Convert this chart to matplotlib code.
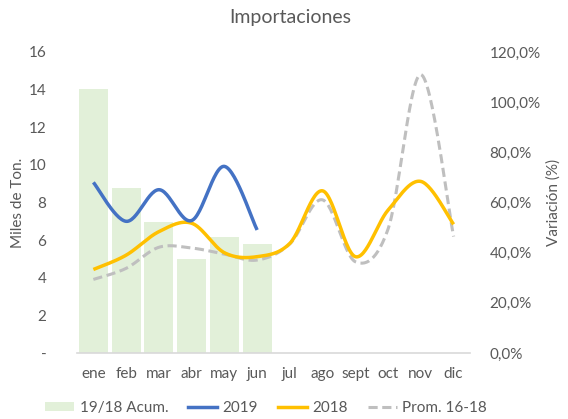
import numpy as np
import matplotlib
matplotlib.use("Agg")
import matplotlib.pyplot as plt
from matplotlib.ticker import FuncFormatter, MultipleLocator
from matplotlib.patches import Patch
from matplotlib.lines import Line2D

plt.rcParams['font.family'] = ['Lato', 'DejaVu Sans']

months = ["ene", "feb", "mar", "abr", "may", "jun", "jul", "ago", "sept", "oct", "nov", "dic"]
acum_19_18 = [105.3, 65.7, 52.4, 37.5, 46.4, 43.5]          # % (right axis)
y2019 = [9.07, 7.0, 8.68, 7.04, 9.92, 6.54]                  # miles de ton
y2018 = [4.44, 5.2, 6.45, 6.9, 5.33, 5.12, 5.83, 8.62, 5.12, 7.6, 9.12, 6.84]
prom_16_18 = [3.91, 4.5, 5.62, 5.58, 5.26, 4.94, 5.8, 8.14, 4.85, 6.6, 14.8, 6.19]

GREY = "#595959"


def smooth(xs, ys, n=30):
    xs = np.asarray(xs, float)
    ys = np.asarray(ys, float)
    P = np.column_stack([xs, ys])
    out = [P[0]]
    m = len(P)
    for i in range(m - 1):
        p0 = P[i - 1] if i > 0 else P[i]
        p1 = P[i]
        p2 = P[i + 1]
        p3 = P[i + 2] if i + 2 < m else P[i + 1]
        c1 = p1 + (p2 - p0) / 6.0
        c2 = p2 - (p3 - p1) / 6.0
        t = np.linspace(0, 1, n)[1:, None]
        seg = ((1 - t) ** 3) * p1 + 3 * ((1 - t) ** 2) * t * c1 + 3 * (1 - t) * t ** 2 * c2 + t ** 3 * p2
        out.extend(seg)
    out = np.array(out)
    return out[:, 0], out[:, 1]


fig = plt.figure(figsize=(5.68, 4.19), dpi=100)
ax = fig.add_axes([77 / 568, 66 / 419, 393 / 568, 301 / 419])
ax2 = ax.twinx()

x = np.arange(len(months))
ax2.bar(x[:len(acum_19_18)], np.array(acum_19_18) / 100.0, width=0.88, color="#E2F0D9", zorder=1)

sx, sy = smooth(x[:len(y2019)], y2019)
ax.plot(sx, sy, color="#4472C4", lw=2.5, solid_capstyle="butt", zorder=4)
sx, sy = smooth(x, y2018)
ax.plot(sx, sy, color="#FFC000", lw=2.5, solid_capstyle="butt", zorder=3)
sx, sy = smooth(x, prom_16_18)
ax.plot(sx, sy, color="#BFBFBF", lw=2.2, ls=(0, (3, 1.5)), zorder=2)

ax.set_zorder(ax2.get_zorder() + 1)
ax.patch.set_visible(False)

ax.set_xlim(-0.5, 11.5)
ax.set_ylim(0, 16)
ax2.set_ylim(0, 1.2)
ax.yaxis.set_major_locator(MultipleLocator(2))
ax2.yaxis.set_major_locator(MultipleLocator(0.2))
ax.yaxis.set_major_formatter(FuncFormatter(lambda v, p: "-" if abs(v) < 1e-9 else f"{v:.0f}"))
ax2.yaxis.set_major_formatter(FuncFormatter(lambda v, p: f"{v*100:.1f}%".replace(".", ",")))

ax.set_xticks(x)
ax.set_xticklabels(months)

for a in (ax, ax2):
    for s in a.spines.values():
        s.set_visible(False)
    a.tick_params(length=0, colors=GREY, labelsize=11)
ax.spines['bottom'].set_visible(True)
ax.spines['bottom'].set_color("#D9D9D9")
ax.spines['bottom'].set_linewidth(1.2)
ax.tick_params(axis='x', pad=10)
ax.tick_params(axis='y', pad=22)
ax2.tick_params(axis='y', pad=14)

ax.set_ylabel("Miles de Ton.", color=GREY, fontsize=11, labelpad=3)
ax2.set_ylabel("Variación (%)", color=GREY, fontsize=11, labelpad=4)

fig.text(290 / 568, 1 - 18 / 419, "Importaciones", ha="center", va="center", color=GREY, fontsize=14)

handles = [
    Patch(facecolor="#E2F0D9", edgecolor="none"),
    Line2D([], [], color="#4472C4", lw=2.5),
    Line2D([], [], color="#FFC000", lw=2.5),
    Line2D([], [], color="#BFBFBF", lw=2.2, ls=(0, (3, 1.5))),
]
labels = ["19/18 Acum.", "2019", "2018", "Prom. 16-18"]
fig.legend(handles, labels, loc="center", bbox_to_anchor=(266 / 568, 1 - 408 / 419), ncol=4,
           frameon=False, fontsize=11, labelcolor=GREY, handlelength=1.9, columnspacing=1.3,
           handletextpad=0.35, handleheight=0.6)

fig.savefig("out.png", dpi=100)
